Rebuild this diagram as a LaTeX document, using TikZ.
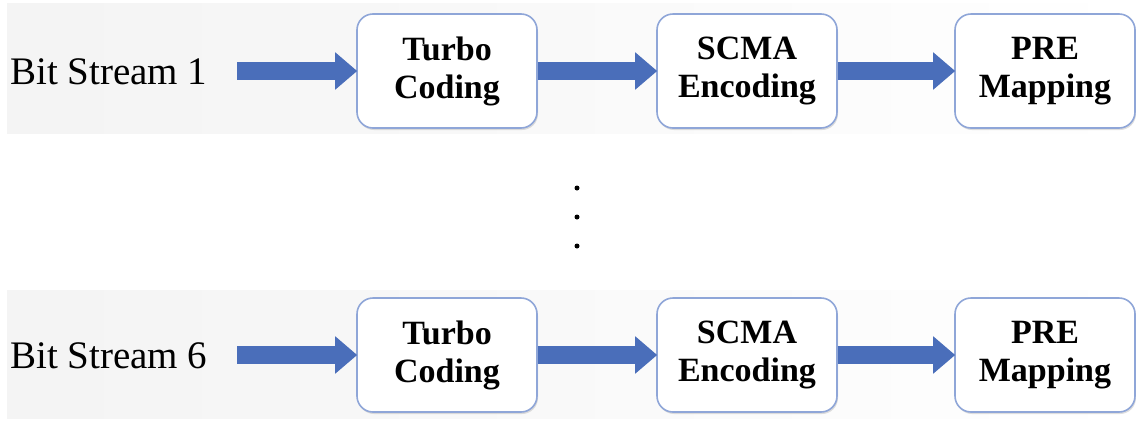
\documentclass[tikz,border=0pt]{standalone}
\usepackage{fontspec}
\setmainfont{Liberation Serif}
\usetikzlibrary{arrows.meta,shadows}
\definecolor{arrowblue}{HTML}{4A6EBA}
\definecolor{boxborder}{HTML}{8FA6D8}
\tikzset{
  proc/.style={draw=boxborder, line width=1.6pt, fill=white, rounded corners=16pt,
    minimum width=180pt, minimum height=114pt, align=center,
    font=\fontsize{34}{38}\selectfont\bfseries,
    drop shadow={shadow xshift=1pt, shadow yshift=-2pt, opacity=0.25}},
  label/.style={anchor=west, font=\fontsize{39}{44}\selectfont, inner sep=0pt},
  flow/.style={arrowblue, line width=18pt, -{Triangle[width=36pt,length=22pt]}, shorten >=-1pt},
  band/.style={left color=gray!9, right color=white, draw=none},
  dot/.style={circle, fill=black, inner sep=0pt, minimum size=5pt}
}
\begin{document}
\begin{tikzpicture}[x=1pt,y=-1pt]
\useasboundingbox (0,0) rectangle (1136,421);
\fill[band] (7,3) rectangle (1136,133);
\fill[band] (7,290) rectangle (1136,418);
% row 1
\node[label] (s1) at (10,72) {Bit Stream 1};
\coordinate (a1) at (237,71);
\node[proc] (t1) at (447,71) {Turbo\\Coding};
\node[proc] (e1) at (747,71) {SCMA\\Encoding};
\node[proc] (p1) at (1045,71) {PRE\\Mapping};
\draw[flow] (a1) -- (t1.west);
\draw[flow] (t1.east) -- (e1.west);
\draw[flow] (e1.east) -- (p1.west);
% dots
\node[dot] (d1) at (577,188) {};
\node[dot] (d2) at (577,217) {};
\node[dot] (d3) at (577,246) {};
% row 2
\node[label] (s6) at (10,356) {Bit Stream 6};
\coordinate (a6) at (237,355);
\node[proc] (t6) at (447,355) {Turbo\\Coding};
\node[proc] (e6) at (747,355) {SCMA\\Encoding};
\node[proc] (p6) at (1045,355) {PRE\\Mapping};
\draw[flow] (a6) -- (t6.west);
\draw[flow] (t6.east) -- (e6.west);
\draw[flow] (e6.east) -- (p6.west);
\end{tikzpicture}
\end{document}
